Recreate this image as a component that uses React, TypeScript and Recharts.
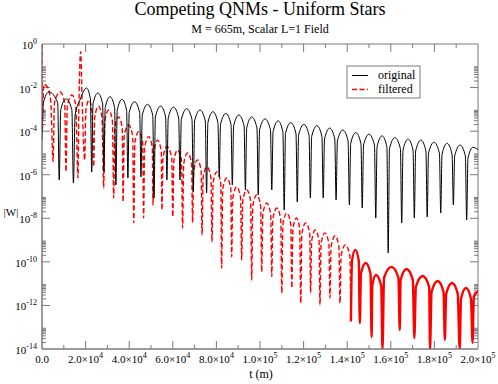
import React from 'react';
import { LineChart, Line, XAxis, YAxis, ReferenceLine, ReferenceArea } from 'recharts';

// ---- data: t in metres, values stored as log10(|W|) ----
const blackT = [
  0, 600, 3200, 7200, 7900,
  8600, 11000, 13700, 14400,
  15200, 17400, 20400, 22200, 22800,
  23400, 25600, 27800, 28400,
  29000, 31200, 33300, 33900,
  34500, 36700, 38800, 39400,
  40000, 42400, 44800, 45400,
  46000, 48400, 50800, 51400,
  52000, 54400, 56700, 57300,
  57900, 60300, 62700, 63300,
  63900, 66400, 68800, 69400,
  70000, 72500, 74900, 75500,
  76100, 78400, 80700, 81300,
  81900, 84300, 86700, 87300,
  87900, 90300, 92700, 93300,
  93900, 96200, 98600, 99200,
  99800, 102300, 104800, 105400,
  106000, 108300, 110500, 111100,
  111700, 114100, 116500, 117100,
  117700, 120100, 122500, 123100,
  123700, 126100, 128400, 129000,
  129600, 132000, 134300, 134900,
  135500, 138000, 140400, 141000,
  141600, 143900, 146300, 146900,
  147500, 150000, 152500, 153100,
  153700, 156000, 158200, 158800,
  159400, 161900, 164400, 165000,
  165600, 167900, 170200, 170800,
  171400, 173800, 176100, 176700,
  177300, 179800, 182300, 182900,
  183500, 185800, 188100, 188700,
  189300, 191800, 194200, 194800,
  195400, 197700, 200000,
];
const blackV = [
  -4.4, -2.7, -2.2, -2.7, -6.24,
  -3.02, -2.52, -3.02, -6.38,
  -3.26, -2.57, -2.02, -2.52, -5.87,
  -2.75, -2.25, -2.75, -5.87,
  -2.92, -2.42, -2.92, -6.47,
  -3.04, -2.54, -3.04, -6.15,
  -3.15, -2.65, -3.15, -6.1,
  -3.27, -2.77, -3.27, -7.07,
  -3.35, -2.85, -3.35, -6.24,
  -3.4, -2.9, -3.4, -6.24,
  -3.47, -2.97, -3.47, -6.79,
  -3.53, -3.03, -3.53, -6.84,
  -3.61, -3.11, -3.61, -6.1,
  -3.69, -3.19, -3.69, -6.47,
  -3.76, -3.26, -3.76, -6.7,
  -3.85, -3.35, -3.85, -6.93,
  -3.94, -3.44, -3.94, -6.7,
  -4.03, -3.53, -4.03, -7.62,
  -4.11, -3.61, -4.11, -7.25,
  -4.19, -3.69, -4.19, -7.07,
  -4.25, -3.75, -4.25, -7.07,
  -4.36, -3.86, -4.36, -7.16,
  -4.45, -3.95, -4.45, -7.39,
  -4.57, -4.07, -4.57, -7.53,
  -4.64, -4.14, -4.64, -7.99,
  -4.72, -4.22, -4.72, -9.59,
  -4.8, -4.3, -4.8, -8.21,
  -4.87, -4.37, -4.87, -7.99,
  -4.91, -4.41, -4.91, -7.94,
  -5.01, -4.51, -5.01, -7.76,
  -5.06, -4.56, -5.06, -7.39,
  -5.14, -4.64, -5.14, -8.08,
  -5.24, -4.74, -4.85,
];

const redT = [
  0, 150, 800, 2300, 4000, 5100,
  5700, 8300, 10400, 11000,
  11600, 13800, 15500, 16500,
  16900, 17750, 18400, 19600,
  20100, 21600, 22900, 23700,
  24200, 25900, 27500, 28300,
  28800, 30600, 32300, 32900,
  33400, 35100, 36800, 37200,
  37700, 39700, 41600, 42100,
  42600, 44400, 46200, 46600,
  47100, 48900, 50600, 50900,
  51400, 53000, 54700, 55000,
  55500, 57300, 59500, 60000,
  60500, 62200, 64000, 64500,
  65000, 66800, 68600, 69100,
  69600, 71300, 73000, 73400,
  73900, 75600, 77500, 78000,
  78500, 80200, 82000, 82400,
  82900, 84800, 86600, 87000,
  87500, 89300, 91100, 91600,
  92100, 93900, 95700, 96200,
  96700, 98500, 100300, 100800,
  101300, 103100, 104900, 105400,
  105900, 107700, 109500, 110000,
  110500, 112300, 114100, 114600,
  115100, 116700, 118200, 118700,
  119200, 121000, 122800, 123200,
  123700, 125300, 127100, 127500,
  128000, 129800, 131600, 132100,
  132600, 134400, 136200, 136700,
  137200, 139200, 141200, 141700,
];
const redV = [
  0, -4.0, -1.85, -1.95, -2.6, -5.4,
  -2.7, -2.2, -2.7, -5.86,
  -2.84, -2.34, -2.84, -6.15,
  -3.0, -0.35, -2.6, -5.32,
  -3.07, -2.57, -3.07, -5.63,
  -3.35, -2.85, -3.35, -6.61,
  -3.53, -3.03, -3.53, -7.07,
  -3.85, -3.35, -3.85, -7.24,
  -4.22, -3.72, -4.22, -8.21,
  -4.52, -4.02, -4.52, -7.99,
  -4.75, -4.25, -4.75, -7.39,
  -4.91, -4.41, -4.91, -7.62,
  -5.21, -4.71, -5.21, -7.93,
  -5.36, -4.86, -5.36, -8.44,
  -5.5, -5.0, -5.5, -8.2,
  -5.82, -5.32, -5.82, -8.77,
  -6.14, -5.64, -6.14, -9.1,
  -6.37, -5.87, -6.37, -10.28,
  -6.65, -6.15, -6.65, -9.77,
  -7.06, -6.56, -7.06, -9.91,
  -7.2, -6.7, -7.2, -10.83,
  -7.43, -6.93, -7.43, -10.45,
  -7.8, -7.3, -7.8, -10.68,
  -8.03, -7.53, -8.03, -11.43,
  -8.26, -7.76, -8.26, -11.2,
  -8.49, -7.99, -8.49, -11.89,
  -8.71, -8.21, -8.71, -11.43,
  -9.04, -8.54, -9.04, -11.98,
  -9.17, -8.67, -9.17, -11.66,
  -9.31, -8.81, -9.31, -11.89,
  -9.72, -9.22, -9.72, -12.74,
];

const tailT = [
  141700, 142200, 143700, 145300, 145800,
  146300, 148500, 150700, 151200,
  151500, 153200, 155600, 156200,
  156900, 160300, 163500, 164100,
  164500, 167200, 170100, 170800,
  171500, 174600, 177600, 178000,
  178700, 181500, 184200, 184800,
  185400, 188100, 190700, 191600,
  192200, 194500, 196800, 197500,
  198100, 200000,
];
const tailV = [
  -12.74, -9.95, -9.45, -9.95, -12.82,
  -10.55, -10.05, -10.55, -13.45,
  -11.1, -10.6, -11.1, -14,
  -10.73, -10.23, -10.73, -13.13,
  -10.83, -10.33, -10.83, -13.5,
  -11.15, -10.65, -11.15, -14,
  -11.38, -10.88, -11.38, -13.58,
  -11.47, -10.97, -11.47, -14,
  -11.7, -11.2, -11.7, -13.72,
  -11.6, -11.34,
];

const xMajorTicks = [0, 20000, 40000, 60000, 80000, 100000, 120000, 140000, 160000, 180000, 200000];
const xMinorTicks = [10000, 30000, 50000, 70000, 90000, 110000, 130000, 150000, 170000, 190000];
const yMajorTicks = [0, -2, -4, -6, -8, -10, -12, -14];
const yMinorMultipliers = [2, 3, 4, 5, 6, 7, 8, 9];

const titleText = 'Competing QNMs - Uniform Stars';
const subtitleText = 'M = 665m, Scalar L=1 Field';
const legendLabels = ['original', 'filtered'];

// ---- styling ----
const FONT = "'Liberation Serif', 'Times New Roman', serif";
const TXT: React.CSSProperties = { fontFamily: FONT };
const AXIS = '#7a7a7a';
const X_MAX = 200000;
const X_PER_PX = X_MAX / 436;
const Y_PER_PX = 14 / 305;

const blackData = blackT.map((t, i) => ({ t, v: blackV[i] }));
const redData = redT.map((t, i) => ({ t, v: redV[i] }));
const tailData = tailT.map((t, i) => ({ t, v: tailV[i] }));

const yMinorTicks: number[] = [];
yMajorTicks.forEach((d) => {
  if (d < 0) yMinorMultipliers.forEach((k) => yMinorTicks.push(d + Math.log10(k)));
});

const XTick = (props: any) => {
  const { x, y, payload } = props;
  const v = payload.value as number;
  if (v === 0) {
    return (
      <text x={x} y={y + 14} textAnchor="middle" fontSize={11} style={TXT} fill="#000">0.0</text>
    );
  }
  const exp = Math.floor(Math.log10(v) + 1e-9);
  const mant = v / Math.pow(10, exp);
  return (
    <text x={x} y={y + 14} textAnchor="middle" fontSize={11} style={TXT} fill="#000">
      {mant.toFixed(1)}×10<tspan dy={-5} fontSize={8}>{exp}</tspan>
    </text>
  );
};

const YTick = (props: any) => {
  const { x, y, payload } = props;
  return (
    <text x={x - 5} y={y + 5} textAnchor="end" fontSize={11} style={TXT} fill="#000">
      10<tspan dy={-5} fontSize={8}>{String(payload.value)}</tspan>
    </text>
  );
};

export default function App() {
  const yMajLen = 8 * X_PER_PX;
  const yMinLen = 4 * X_PER_PX;
  const xMajLen = 8 * Y_PER_PX;
  const xMinLen = 4 * Y_PER_PX;
  const tickLines: React.ReactNode[] = [];
  yMajorTicks.forEach((v, i) => {
    if (v === 0 || v === -14) return;
    tickLines.push(<ReferenceLine key={'yl' + i} segment={[{ x: 0, y: v }, { x: yMajLen, y: v }]} stroke={AXIS} />);
    tickLines.push(<ReferenceLine key={'yr' + i} segment={[{ x: X_MAX - yMajLen, y: v }, { x: X_MAX, y: v }]} stroke={AXIS} />);
  });
  yMinorTicks.forEach((v, i) => {
    tickLines.push(<ReferenceLine key={'yml' + i} segment={[{ x: 0, y: v }, { x: yMinLen, y: v }]} stroke={AXIS} />);
    tickLines.push(<ReferenceLine key={'ymr' + i} segment={[{ x: X_MAX - yMinLen, y: v }, { x: X_MAX, y: v }]} stroke={AXIS} />);
  });
  xMajorTicks.forEach((t, i) => {
    if (t === 0 || t === X_MAX) return;
    tickLines.push(<ReferenceLine key={'xb' + i} segment={[{ x: t, y: -14 }, { x: t, y: -14 + xMajLen }]} stroke={AXIS} />);
    tickLines.push(<ReferenceLine key={'xt' + i} segment={[{ x: t, y: 0 }, { x: t, y: -xMajLen }]} stroke={AXIS} />);
  });
  xMinorTicks.forEach((t, i) => {
    tickLines.push(<ReferenceLine key={'xmb' + i} segment={[{ x: t, y: -14 }, { x: t, y: -14 + xMinLen }]} stroke={AXIS} />);
    tickLines.push(<ReferenceLine key={'xmt' + i} segment={[{ x: t, y: 0 }, { x: t, y: -xMinLen }]} stroke={AXIS} />);
  });

  return (
    <div style={{ position: 'absolute', left: 0, top: 0, width: 498, height: 384, background: '#fff', fontFamily: FONT }}>
      <LineChart width={498} height={384} margin={{ top: 44, right: 20, bottom: 0, left: 0 }} style={TXT}>
        <XAxis
          dataKey="t"
          type="number"
          domain={[0, X_MAX]}
          ticks={xMajorTicks}
          interval={0}
          tick={<XTick />}
          tickLine={false}
          tickSize={0}
          tickMargin={0}
          axisLine={{ stroke: AXIS }}
          height={35}
          allowDataOverflow
        />
        <YAxis
          type="number"
          domain={[-14, 0]}
          ticks={yMajorTicks}
          interval={0}
          tick={<YTick />}
          tickLine={false}
          tickSize={0}
          tickMargin={0}
          axisLine={{ stroke: AXIS }}
          width={42}
          allowDataOverflow
        />
        <ReferenceArea x1={0} x2={X_MAX} y1={-14} y2={0} fill="none" stroke={AXIS} strokeWidth={1} />
        {tickLines}
        <Line data={redData} dataKey="v" type="monotone" stroke="#ff0000" strokeWidth={1.4}
          strokeDasharray="5 2.5" dot={false} isAnimationActive={false} />
        <Line data={tailData} dataKey="v" type="monotone" stroke="#ff0000" strokeWidth={2.4}
          dot={false} isAnimationActive={false} />
        <Line data={blackData} dataKey="v" type="monotone" stroke="#000000" strokeWidth={1}
          dot={false} isAnimationActive={false} />
      </LineChart>
      <svg width={498} height={384} style={{ position: 'absolute', left: 0, top: 0, pointerEvents: 'none' }}>
        <text x={260} y={15} textAnchor="middle" fontSize={18} style={TXT} fill="#000">{titleText}</text>
        <text x={260} y={33} textAnchor="middle" fontSize={12} style={TXT} fill="#000">{subtitleText}</text>
        <text x={261} y={378} textAnchor="middle" fontSize={12} style={TXT} fill="#000">t (m)</text>
        <text x={11} y={216} textAnchor="middle" fontSize={11} style={TXT} fill="#000">|W|</text>
        <rect x={347} y={66} width={73} height={32} fill="#fff" stroke={AXIS} strokeWidth={1} />
        <line x1={352} y1={75.5} x2={368} y2={75.5} stroke="#000" strokeWidth={1} />
        <line x1={352} y1={89.5} x2={368} y2={89.5} stroke="#ff0000" strokeWidth={1.4} strokeDasharray="5 2.5" />
        <text x={378} y={79} fontSize={12} style={TXT} fill="#000">{legendLabels[0]}</text>
        <text x={378} y={93} fontSize={12} style={TXT} fill="#000">{legendLabels[1]}</text>
      </svg>
    </div>
  );
}
